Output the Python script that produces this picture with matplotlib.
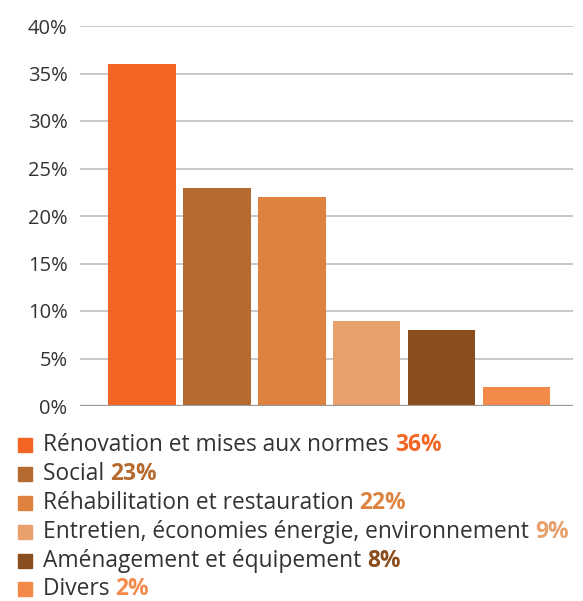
import matplotlib.pyplot as plt
import numpy as np

plt.rcParams['font.family'] = ['Open Sans', 'DejaVu Sans']

categories = ["Rénovation et mises aux normes", "Social", "Réhabilitation et restauration",
              "Entretien, économies énergie, environnement", "Aménagement et équipement", "Divers"]
values = [36, 23, 22, 9, 8, 2]
colors = ["#F26522", "#B56A30", "#DE8240", "#E8A06C", "#8A4E1E", "#F48A4A"]
yticks = [0, 5, 10, 15, 20, 25, 30, 35, 40]

W, H = 583, 601
fig = plt.figure(figsize=(W / 100, H / 100), dpi=100)
ax = fig.add_axes([80 / W, 1 - 406 / H, (573 - 80) / W, (406 - 26) / H])

x = np.arange(len(values))
ax.bar(x, values, width=0.9, color=colors, zorder=3)

ax.set_xlim(-0.827, 5.753)
ax.set_ylim(0, 40)
ax.set_yticks(yticks)
ax.set_yticklabels([f"{v}%" for v in yticks], fontsize=14.5, color="#333333")
ax.set_xticks([])
ax.tick_params(axis='y', length=0, pad=9)
ax.grid(axis='y', color="#c8c8c8", linewidth=1.4, zorder=0)
for s in ax.spines.values():
    s.set_visible(False)
ax.axhline(0, color="#999999", linewidth=1.6, zorder=4)

# legend drawn by hand
ys = [445, 474, 503, 532, 561, 589]
for cat, v, c, py in zip(categories, values, colors, ys):
    yf = 1 - py / H
    fig.patches.append(plt.Rectangle((18 / W, yf - 7 / H), 14 / W, 14 / H,
                                     transform=fig.transFigure, color=c))
    t = fig.text(43 / W, yf, cat + " ", fontsize=16.4, color="#333333", va='center')
    ax.annotate(f"{v}%", xy=(1, 0.5), xycoords=t, va='center', ha='left',
                fontsize=16.4, fontweight='bold', color=c, annotation_clip=False)

fig.savefig("out.png", dpi=100)
